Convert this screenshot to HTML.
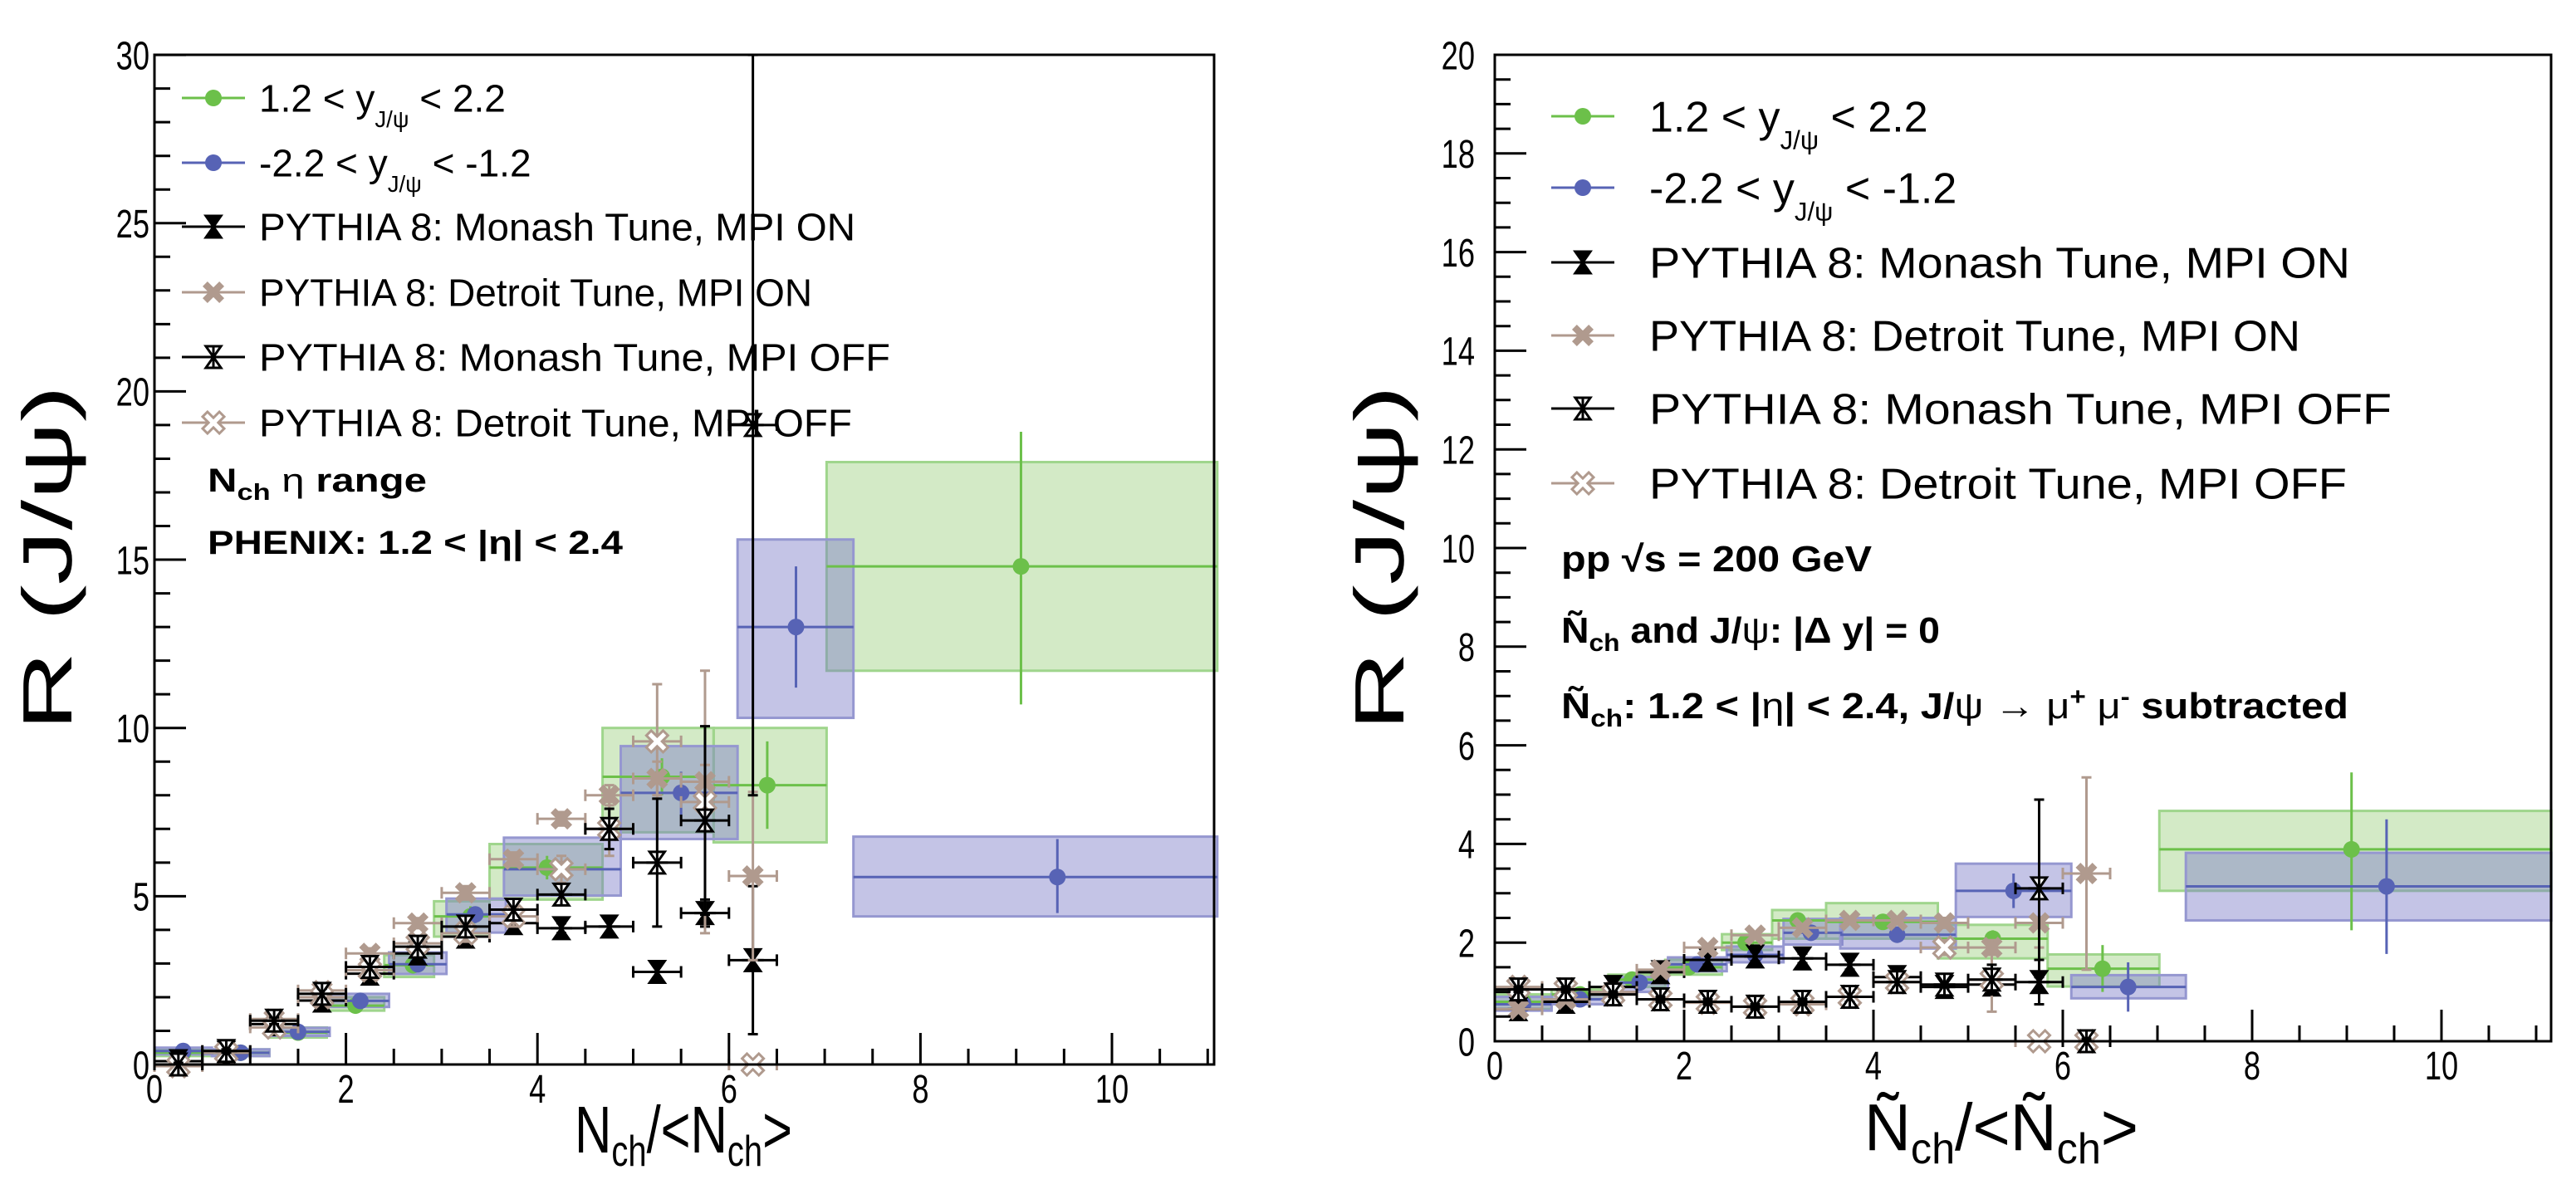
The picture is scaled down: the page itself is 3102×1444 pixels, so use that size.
<!DOCTYPE html>
<html><head><meta charset="utf-8"><style>
html,body{margin:0;padding:0;background:#fff;}
svg{display:block;}
text{font-family:"Liberation Sans Narrow","Liberation Sans",sans-serif;fill:#000;}
.b{font-weight:bold;}
</style></head><body>
<svg id="chart" xmlns="http://www.w3.org/2000/svg" width="3102" height="1444" viewBox="0 0 3102 1444">
<rect x="0" y="0" width="3102" height="1444" fill="#fff"/>
<g id="left"></g>
<g id="right"></g>
</svg>
<script>
// ---------- shared MC x centers ----------
const mcX = [0.25,0.75,1.25,1.75,2.25,2.75,3.25,3.75,4.25,4.75,5.25,5.75,6.25];
const mcXerr = 0.25;
// ---------- LEFT PANEL DATA ----------
const Lg_x = [0.3,0.9,1.5,2.1,2.7,3.3,4.1,5.3,6.4,9.05];
const Lg_y = [0.35,0.35,0.95,1.75,2.95,4.4,5.85,8.55,8.3,14.8];
const Lg_bxlo = [0,0.6,1.2,1.8,2.4,2.92,3.5,4.68,5.84,7.02];
const Lg_bxhi = [0.6,1.2,1.8,2.4,2.92,3.5,4.68,5.84,7.02,11.1];
const Lg_bylo = [0.25,0.25,0.8,1.6,2.6,3.8,4.9,6.9,6.6,11.7];
const Lg_byhi = [0.45,0.45,1.1,2.0,3.25,4.85,6.55,10.0,10.0,17.9];
const Lg_elo = [0.2,0.2,0.8,1.6,2.7,4.1,5.5,8.0,7.0,10.7];
const Lg_ehi = [0.5,0.5,1.1,1.9,3.2,4.7,6.2,9.1,9.6,18.8];
const Lb_x = [0.3,0.9,1.5,2.15,2.75,3.35,4.25,5.5,6.7,9.43];
const Lb_y = [0.4,0.35,0.97,1.89,2.98,4.46,5.8,8.07,13.0,5.57];
const Lb_bxlo = [0,0.6,1.18,1.83,2.45,3.05,3.65,4.87,6.09,7.3];
const Lb_bxhi = [0.6,1.2,1.83,2.45,3.05,3.67,4.87,6.09,7.3,11.1];
const Lb_bylo = [0.3,0.25,0.85,1.71,2.69,3.92,5.02,6.7,10.3,4.4];
const Lb_byhi = [0.5,0.45,1.09,2.1,3.33,4.93,6.74,9.46,15.6,6.77];
const Lb_elo = [0.3,0.25,0.85,1.75,2.8,4.2,5.5,7.4,11.2,4.5];
const Lb_ehi = [0.5,0.45,1.1,2.0,3.2,4.7,6.1,8.7,14.8,6.7];
const L_monOn = [0.1,0.35,1.2,1.9,2.7,3.3,3.8,4.2,4.05,4.1,2.75,4.5,3.1];
const L_monOnE = [0.05,0.05,0.1,0.15,0.15,0.15,0.15,0.15,0.15,0.2,0.3,0.4,2.2];
const L_monOff = [0.0,0.4,1.3,2.1,2.9,3.5,4.1,4.6,5.05,7.0,6.0,7.25,19];
const L_monOffE = [0.05,0.05,0.1,0.15,0.2,0.2,0.2,0.25,0.3,0.6,1.9,2.8,11];
const L_detOn = [0.0,0.4,1.35,2.2,3.3,4.2,5.1,6.1,7.3,8.0,8.5,8.4,5.6];
const L_detOnE = [0.05,0.05,0.1,0.1,0.15,0.15,0.2,0.2,0.2,0.3,0.5,0.5,2.5];
const L_detOff = [-0.05,0.35,1.1,2.0,2.8,3.6,3.9,4.4,5.8,7.0,9.6,7.8,0.0];
const L_detOffE = [0.05,0.05,0.1,0.15,0.2,0.2,0.25,0.3,0.4,0.8,1.7,3.9,0.1];
const L_xticks = [0,2,4,6,8,10];
const L_yticks = [0,5,10,15,20,25,30];
// ---------- RIGHT PANEL DATA ----------
const Rg_x = [0.3,0.9,1.45,2.05,2.65,3.2,4.1,5.26,6.42,9.05];
const Rg_y = [0.8,0.95,1.25,1.5,2.0,2.45,2.42,2.08,1.47,3.89];
const Rg_bxlo = [0,0.6,1.2,1.8,2.4,2.93,3.5,4.68,5.84,7.02];
const Rg_bxhi = [0.6,1.2,1.8,2.4,2.93,3.5,4.68,5.84,7.02,11.16];
const Rg_bylo = [0.65,0.85,1.1,1.35,1.85,2.08,2.08,1.68,1.11,3.05];
const Rg_byhi = [0.95,1.05,1.35,1.65,2.17,2.66,2.8,2.36,1.76,4.67];
const Rg_elo = [0.7,0.88,1.15,1.4,1.9,2.3,2.3,1.9,1.0,2.25];
const Rg_ehi = [0.9,1.02,1.35,1.6,2.1,2.6,2.55,2.25,1.95,5.45];
const Rb_x = [0.3,0.9,1.53,2.14,2.75,3.34,4.25,5.48,6.69,9.42];
const Rb_y = [0.75,0.85,1.19,1.56,1.75,2.2,2.16,3.05,1.1,3.14];
const Rb_bxlo = [0,0.6,1.2,1.83,2.45,3.05,3.65,4.87,6.09,7.3];
const Rb_bxhi = [0.6,1.2,1.83,2.45,3.05,3.67,4.87,6.09,7.3,11.16];
const Rb_bylo = [0.62,0.75,1.0,1.42,1.6,1.96,1.88,2.52,0.87,2.45];
const Rb_byhi = [0.9,0.95,1.3,1.7,1.92,2.48,2.5,3.6,1.34,3.82];
const Rb_elo = [0.65,0.8,1.1,1.48,1.65,2.05,2.0,2.7,0.6,1.77];
const Rb_ehi = [0.85,0.9,1.28,1.64,1.85,2.35,2.32,3.4,1.6,4.5];
const R_monOn = [0.65,0.8,1.1,1.4,1.65,1.72,1.68,1.55,1.3,1.1,1.15,1.2,NaN];
const R_monOnE = [0.1,0.05,0.05,0.05,0.1,0.1,0.1,0.1,0.1,0.15,0.2,0.45,0];
const R_monOff = [1.05,1.05,0.95,0.85,0.8,0.7,0.8,0.9,1.2,1.15,1.25,3.1,0.0];
const R_monOffE = [0.05,0.05,0.05,0.05,0.05,0.05,0.05,0.1,0.1,0.1,0.3,1.8,0.05];
const R_detOn = [0.65,0.85,1.0,1.45,1.9,2.15,2.3,2.45,2.45,2.4,1.9,2.4,3.4];
const R_detOnE = [0.05,0.05,0.05,0.05,0.05,0.05,0.05,0.05,0.05,0.1,0.15,0.5,1.95];
const R_detOff = [1.1,1.05,0.95,0.85,0.78,0.7,0.75,0.9,1.2,1.9,1.25,0.0,0.0];
const R_detOffE = [0.05,0.05,0.05,0.05,0.05,0.05,0.05,0.05,0.1,0.15,0.65,0.05,0.05];
const R_xticks = [0,2,4,6,8,10];
const R_yticks = [0,2,4,6,8,10,12,14,16,18,20];

const NS = "http://www.w3.org/2000/svg";
const GREEN = "#6cc04a", GREENF = "rgba(150,205,120,0.42)", GREENS = "#9fd58c";
const BLUE = "#5763b5", BLUEF = "rgba(125,125,200,0.45)", BLUES = "#9597d0";
const TAN = "#b09a8e";

function mk(parent, tag, attrs) {
  const e = document.createElementNS(NS, tag);
  for (const k in attrs) e.setAttribute(k, attrs[k]);
  parent.appendChild(e);
  return e;
}

function marker(g, type, cx, cy, s) {
  let e;
  if (type === "circle") {
    e = mk(g, "circle", {cx: cx, cy: cy, r: s, fill: arguments[5]});
  } else if (type === "monOn" || type === "monOff") {
    const fill = type === "monOn" ? "#000" : "#fff";
    e = mk(g, "path", {d: `M${cx-s*0.7},${cy-s} L${cx+s*0.7},${cy-s} L${cx},${cy} Z M${cx-s*0.7},${cy+s} L${cx+s*0.7},${cy+s} L${cx},${cy} Z M${cx-s},${cy} L${cx+s},${cy} M${cx},${cy-s} L${cx},${cy+s}`, fill: fill, stroke: "#000", "stroke-width": 3});
  } else {
    const w = s*0.45;
    const d = `M${cx-s},${cy-s+w} L${cx-s+w},${cy-s} L${cx},${cy-w} L${cx+s-w},${cy-s} L${cx+s},${cy-s+w} L${cx+w},${cy} L${cx+s},${cy+s-w} L${cx+s-w},${cy+s} L${cx},${cy+w} L${cx-s+w},${cy+s} L${cx-s},${cy+s-w} L${cx-w},${cy} Z`;
    e = type === "detOn" ? mk(g, "path", {d: d, fill: TAN}) : mk(g, "path", {d: d, fill: "#fff", stroke: TAN, "stroke-width": 3});
  }
  return e;
}

function panel(root, cfg) {
  const X = v => cfg.x0 + v * cfg.xs;
  const Y = v => cfg.y0 - v * cfg.ys;
  const clipY = v => Math.max(cfg.top, Math.min(cfg.y0, Y(v)));
  for (const s of cfg.data) {
    const gb = mk(root, "g", {});
    
    
    for (let i = 0; i < s.x.length; i++) {
      const r = mk(gb, "rect", {x: X(s.bxlo[i]), y: Y(s.byhi[i]), width: X(s.bxhi[i]) - X(s.bxlo[i]), height: Y(s.bylo[i]) - Y(s.byhi[i]), fill: s.fill, stroke: s.stroke, "stroke-width": 3});
      
      
    }
  }
  for (const s of cfg.data) {
    const gp = mk(root, "g", {});
    
    
    for (let i = 0; i < s.x.length; i++) {
      mk(gp, "line", {x1: X(s.bxlo[i]), x2: X(s.bxhi[i]), y1: Y(s.y[i]), y2: Y(s.y[i]), stroke: s.line, "stroke-width": 3});
      mk(gp, "line", {x1: X(s.x[i]), x2: X(s.x[i]), y1: clipY(s.elo[i]), y2: clipY(s.ehi[i]), stroke: s.line, "stroke-width": 3});
      const c = marker(gp, "circle", X(s.x[i]), Y(s.y[i]), 10, s.color);
      
      
    }
  }
  for (const m of cfg.mc) {
    const gm = mk(root, "g", {});
    
    
    for (let i = 0; i < mcX.length; i++) {
      if (isNaN(m.y[i])) continue;
      const cx = X(mcX[i]), cy = Y(m.y[i]);
      const x1 = X(mcX[i] - mcXerr), x2 = X(mcX[i] + mcXerr);
      const y1 = clipY(m.y[i] - m.e[i]), y2 = clipY(m.y[i] + m.e[i]);
      mk(gm, "path", {d: `M${x1},${cy} L${x2},${cy} M${x1},${cy-7} L${x1},${cy+7} M${x2},${cy-7} L${x2},${cy+7} M${cx},${y1} L${cx},${y2} M${cx-6},${y1} L${cx+6},${y1} M${cx-6},${y2} L${cx+6},${y2}`, stroke: m.color, "stroke-width": 3, fill: "none"});
      const mm = marker(gm, m.type, cx, cy, 13);
      
      
    }
  }
  const fr = mk(root, "rect", {x: cfg.x0, y: cfg.top, width: cfg.right - cfg.x0, height: cfg.y0 - cfg.top, fill: "none", stroke: "#000", "stroke-width": 3});
  
  
  const ga = mk(root, "g", {});
  
  
  let d = "";
  for (let v = 0; v <= cfg.xmax + 1e-9; v += 0.5) {
    const major = Math.abs(v / 2 - Math.round(v / 2)) < 1e-6;
    d += `M${X(v)},${cfg.y0} L${X(v)},${cfg.y0 - (major ? 38 : 19)} `;
  }
  for (let v = 0; v <= cfg.ymax + 1e-9; v += cfg.yminor) {
    const major = Math.abs(v / cfg.ymajor - Math.round(v / cfg.ymajor)) < 1e-6;
    d += `M${cfg.x0},${Y(v)} L${cfg.x0 + (major ? 38 : 19)},${Y(v)} `;
  }
  mk(ga, "path", {d: d, stroke: "#000", "stroke-width": 3, fill: "none"});
  const dw = cfg.tickFs * 0.42;
  for (const t of cfg.xticks) {
    const tx = mk(ga, "text", {x: X(t), y: cfg.xlabY, "font-size": cfg.tickFs, "text-anchor": "middle", textLength: String(t).length * dw, lengthAdjust: "spacingAndGlyphs"});
    tx.textContent = t;
    
    
  }
  for (const t of cfg.yticks) {
    const ty = mk(ga, "text", {x: cfg.ylabX, y: Y(t) + cfg.tickFs * 0.36, "font-size": cfg.tickFs, "text-anchor": "end", textLength: String(t).length * dw, lengthAdjust: "spacingAndGlyphs"});
    ty.textContent = t;
    
    
  }
}

const L = {x0: 186, xs: 115.3, y0: 1282, ys: 40.53, top: 66, right: 1462, xmax: 11.07, ymax: 30, ymajor: 5, yminor: 1,
  xticks: L_xticks, yticks: L_yticks, tickFs: 48, xlabY: 1328, ylabX: 180,
  data: [
    {name: "green-forward", x: Lg_x, y: Lg_y, bxlo: Lg_bxlo, bxhi: Lg_bxhi, bylo: Lg_bylo, byhi: Lg_byhi, elo: Lg_elo, ehi: Lg_ehi, fill: GREENF, stroke: GREENS, color: GREEN, line: GREEN},
    {name: "blue-backward", x: Lb_x, y: Lb_y, bxlo: Lb_bxlo, bxhi: Lb_bxhi, bylo: Lb_bylo, byhi: Lb_byhi, elo: Lb_elo, ehi: Lb_ehi, fill: BLUEF, stroke: BLUES, color: BLUE, line: BLUE}],
  mc: [
    {name: "monash-mpi-on", y: L_monOn, e: L_monOnE, type: "monOn", color: "#000"},
    {name: "detroit-mpi-on", y: L_detOn, e: L_detOnE, type: "detOn", color: TAN},
    {name: "detroit-mpi-off", y: L_detOff, e: L_detOffE, type: "detOff", color: TAN},
    {name: "monash-mpi-off", y: L_monOff, e: L_monOffE, type: "monOff", color: "#000"}]
};
const R = {x0: 1800, xs: 114, y0: 1254, ys: 59.4, top: 66, right: 3072, xmax: 11.16, ymax: 20, ymajor: 2, yminor: 0.5,
  xticks: R_xticks, yticks: R_yticks, tickFs: 48, xlabY: 1300, ylabX: 1776,
  data: [
    {name: "green-forward", x: Rg_x, y: Rg_y, bxlo: Rg_bxlo, bxhi: Rg_bxhi, bylo: Rg_bylo, byhi: Rg_byhi, elo: Rg_elo, ehi: Rg_ehi, fill: GREENF, stroke: GREENS, color: GREEN, line: GREEN},
    {name: "blue-backward", x: Rb_x, y: Rb_y, bxlo: Rb_bxlo, bxhi: Rb_bxhi, bylo: Rb_bylo, byhi: Rb_byhi, elo: Rb_elo, ehi: Rb_ehi, fill: BLUEF, stroke: BLUES, color: BLUE, line: BLUE}],
  mc: [
    {name: "monash-mpi-on", y: R_monOn, e: R_monOnE, type: "monOn", color: "#000"},
    {name: "detroit-mpi-on", y: R_detOn, e: R_detOnE, type: "detOn", color: TAN},
    {name: "detroit-mpi-off", y: R_detOff, e: R_detOffE, type: "detOff", color: TAN},
    {name: "monash-mpi-off", y: R_monOff, e: R_monOffE, type: "monOff", color: "#000"}]
};
panel(document.getElementById("left"), L);
panel(document.getElementById("right"), R);

function legend(root, x0, xt, ys, fs, tl, tw) {
  const items = [
    {t: "circle", c: GREEN, line: GREEN, n: "legend-green"},
    {t: "circle", c: BLUE, line: BLUE, n: "legend-blue"},
    {t: "monOn", line: "#000", n: "legend-monash-on", s: "PYTHIA 8: Monash Tune, MPI ON"},
    {t: "detOn", line: TAN, n: "legend-detroit-on", s: "PYTHIA 8: Detroit Tune, MPI ON"},
    {t: "monOff", line: "#000", n: "legend-monash-off", s: "PYTHIA 8: Monash Tune, MPI OFF"},
    {t: "detOff", line: TAN, n: "legend-detroit-off", s: "PYTHIA 8: Detroit Tune, MPI OFF"}];
  items.forEach((it, i) => {
    const g = mk(root, "g", {});
    
    
    const y = ys[i];
    mk(g, "line", {x1: x0 - 38, x2: x0 + 38, y1: y, y2: y, stroke: it.line, "stroke-width": 3});
    if (it.t === "circle") marker(g, "circle", x0, y, 10, it.c); else marker(g, it.t, x0, y, 13);
    const tx = mk(g, "text", {x: xt, y: y + fs * 0.36, "font-size": fs});
    if (i === 0) {
      tx.innerHTML = `1.2 &lt; y<tspan font-size="${fs*0.6}" dy="${fs*0.4}">J/ψ</tspan><tspan dy="${-fs*0.4}"> &lt; 2.2</tspan>`;
    } else if (i === 1) {
      tx.innerHTML = `-2.2 &lt;  y<tspan font-size="${fs*0.6}" dy="${fs*0.4}">J/ψ</tspan><tspan dy="${-fs*0.4}"> &lt; -1.2</tspan>`;
    } else {
      tx.textContent = it.s;
      tx.setAttribute("textLength", tw[i - 2]);
      tx.setAttribute("lengthAdjust", "spacingAndGlyphs");
    }
  });
}
legend(document.getElementById("left"), 257, 312, [118, 196, 273, 352, 430, 509], 46, 0, [718, 666, 760, 714]);
legend(document.getElementById("right"), 1906, 1986, [140, 226, 316, 404, 492, 582], 52, 0, [844, 784, 894, 840]);
</script>
<svg style="position:absolute;left:0;top:0" width="3102" height="1444" xmlns="http://www.w3.org/2000/svg">
<text class="b" x="250" y="592" font-size="40" textLength="264" lengthAdjust="spacingAndGlyphs">N<tspan font-size="28" dy="10">ch</tspan><tspan dy="-10" font-weight="normal">  η</tspan> range</text>
<text class="b" x="250" y="667" font-size="40" textLength="500" lengthAdjust="spacingAndGlyphs">PHENIX: 1.2 &lt; |η| &lt; 2.4</text>
<text x="86" y="672" font-size="84" text-anchor="middle" textLength="416" lengthAdjust="spacingAndGlyphs" transform="rotate(-90 86 672)">R (J/ψ)</text>
<text x="823" y="1388" font-size="80" text-anchor="middle" textLength="262" lengthAdjust="spacingAndGlyphs">N<tspan font-size="52" dy="16">ch</tspan><tspan dy="-16">/&lt;N</tspan><tspan font-size="52" dy="16">ch</tspan><tspan dy="-16">&gt;</tspan></text>
<text class="b" x="1880" y="688" font-size="44" textLength="374" lengthAdjust="spacingAndGlyphs">pp  √s = 200 GeV</text>
<text class="b" x="1880" y="774" font-size="44" textLength="456" lengthAdjust="spacingAndGlyphs">Ñ<tspan font-size="30" dy="10">ch</tspan><tspan dy="-10"> and J/</tspan><tspan font-weight="normal">ψ</tspan>: |Δ y| = 0</text>
<text class="b" x="1880" y="865" font-size="44" textLength="948" lengthAdjust="spacingAndGlyphs">Ñ<tspan font-size="30" dy="10">ch</tspan><tspan dy="-10">: 1.2 &lt; |</tspan><tspan font-weight="normal">η</tspan>| &lt; 2.4, J/<tspan font-weight="normal">ψ</tspan> <tspan font-weight="normal">→ μ</tspan><tspan font-size="30" dy="-16">+</tspan><tspan dy="16" font-weight="normal"> μ</tspan><tspan font-size="30" dy="-16">-</tspan><tspan dy="16"> subtracted</tspan></text>
<text x="1690" y="672" font-size="84" text-anchor="middle" textLength="416" lengthAdjust="spacingAndGlyphs" transform="rotate(-90 1690 672)">R (J/ψ)</text>
<text x="2410" y="1385" font-size="80" text-anchor="middle" textLength="330" lengthAdjust="spacingAndGlyphs">Ñ<tspan font-size="52" dy="16">ch</tspan><tspan dy="-16">/&lt;Ñ</tspan><tspan font-size="52" dy="16">ch</tspan><tspan dy="-16">&gt;</tspan></text>
</svg>
</body></html>
